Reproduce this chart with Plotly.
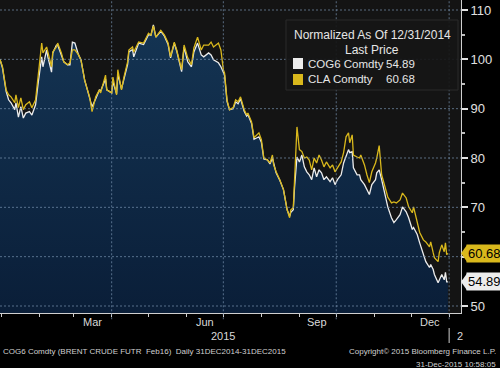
import plotly.graph_objects as go

dates = ["2014-12-31","2015-01-02","2015-01-05","2015-01-07","2015-01-09","2015-01-12","2015-01-13","2015-01-15","2015-01-17","2015-01-19",
"2015-01-21","2015-01-24","2015-01-26","2015-01-28","2015-01-29","2015-01-31","2015-02-03","2015-02-04","2015-02-07","2015-02-08",
"2015-02-11","2015-02-12","2015-02-15","2015-02-16","2015-02-19","2015-02-21","2015-02-24","2015-02-26","2015-02-28","2015-03-02",
"2015-03-05","2015-03-07","2015-03-10","2015-03-14","2015-03-16","2015-03-19","2015-03-22","2015-03-23","2015-03-27","2015-03-28",
"2015-04-01","2015-04-02","2015-04-05","2015-04-06","2015-04-09","2015-04-11","2015-04-14","2015-04-15","2015-04-18","2015-04-19",
"2015-04-23","2015-04-27","2015-05-01","2015-05-03","2015-05-05","2015-05-07","2015-05-11","2015-05-14","2015-05-17","2015-05-19",
"2015-05-22","2015-05-24","2015-05-28","2015-05-30","2015-06-02","2015-06-05","2015-06-07","2015-06-10","2015-06-13","2015-06-15",
"2015-06-19","2015-06-21","2015-06-23","2015-06-27","2015-06-29","2015-07-01","2015-07-02","2015-07-04","2015-07-06","2015-07-09",
"2015-07-11","2015-07-13","2015-07-15","2015-07-18","2015-07-20","2015-07-21","2015-07-24","2015-07-26","2015-07-28","2015-07-30",
"2015-08-01","2015-08-03","2015-08-06","2015-08-08","2015-08-10","2015-08-11","2015-08-13","2015-08-15","2015-08-16","2015-08-19",
"2015-08-20","2015-08-22","2015-08-24","2015-08-25","2015-08-27","2015-08-28","2015-08-30","2015-09-01","2015-09-03","2015-09-05",
"2015-09-07","2015-09-09","2015-09-11","2015-09-13","2015-09-15","2015-09-17","2015-09-19","2015-09-21","2015-09-23","2015-09-26",
"2015-09-28","2015-09-30","2015-10-02","2015-10-05","2015-10-07","2015-10-09","2015-10-11","2015-10-12","2015-10-14","2015-10-15",
"2015-10-18","2015-10-20","2015-10-21","2015-10-24","2015-10-26","2015-10-28","2015-10-30","2015-11-02","2015-11-03","2015-11-05",
"2015-11-07","2015-11-09","2015-11-12","2015-11-15","2015-11-17","2015-11-19","2015-11-22","2015-11-24","2015-11-27","2015-11-29",
"2015-12-02","2015-12-03","2015-12-06","2015-12-08","2015-12-11","2015-12-13","2015-12-16","2015-12-17","2015-12-19","2015-12-20",
"2015-12-23","2015-12-24","2015-12-26","2015-12-28","2015-12-29","2015-12-30","2015-12-31"]

cla = [100,98.5,93.8,92.8,92.4,91.2,92.8,90.2,92.2,89.8,
90.8,91.4,90.2,91.4,91.8,96.4,103.3,101.3,102.5,101.5,
98.5,101.5,102.5,103.3,101.3,99.5,98.9,99.3,101.9,101.9,
100.9,99.9,95.8,92.4,89.4,92.4,93.8,93.2,96.8,93.8,
93.2,96.4,92.8,97.9,93.8,96.4,99.5,101.9,102.5,101.5,
103.5,103.3,105.3,104.9,106.8,104.5,105.9,104.9,103.3,100.5,
103.5,101.9,97.9,102.9,100.3,98.9,102.3,104.5,101.9,102.9,
102.9,103.5,102.5,103.3,101.9,97.9,97.2,91.8,89.8,90.2,
91.8,91.4,92.4,89.8,88.7,89.1,87.3,84.1,84.7,85.1,
83.7,80.0,79.6,79.0,80.6,78.6,77.2,76.2,75.6,73.6,
72.1,69.5,67.9,69.5,69.9,75.6,86.3,81.7,81.3,80.0,
80.2,79.6,77.6,80.0,79.0,80.6,79.6,78.2,79.2,78.0,
78.6,77.2,78.0,79.2,81.1,84.3,85.1,83.1,84.7,80.6,
80.2,80.0,80.6,78.6,76.6,75.0,77.2,79.0,80.0,82.5,
76.6,75.0,72.1,70.9,71.1,70.9,71.5,72.9,71.9,70.1,
68.9,70.1,66.9,64.9,63.4,63.0,62.0,63.0,60.8,59.8,
59.0,60.8,62.4,61.0,62.8,60.4,60.68]

cog = [100,98.3,93.5,91.8,91.2,89.8,91.2,88.3,90.4,88.1,
89.1,89.4,88.7,90.2,90.8,95.0,100.5,98.5,101.9,100.5,
97.4,101.3,102.9,102.9,101.0,99.5,98.9,98.9,103.5,103.3,
100.9,99.9,95.8,92.4,90.4,92.0,93.8,93.6,96.0,93.8,
93.2,95.5,93.0,97.0,94.0,96.0,99.0,101.5,102.0,100.5,
103.3,103.0,105.0,104.9,107.0,104.5,105.7,104.7,103.0,100.3,
103.3,101.7,97.5,102.5,99.5,98.5,101.5,103.3,100.9,100.5,
101.3,100.9,99.9,99.3,98.5,97.4,96.8,91.5,89.8,90.0,
91.4,91.0,92.0,89.5,88.5,88.8,87.0,83.8,84.0,84.3,
83.2,79.8,79.6,78.8,80.0,78.8,77.0,76.0,75.5,73.6,
72.1,69.5,68.2,69.0,69.5,74.0,80.2,79.2,80.6,78.2,
77.2,76.6,75.6,78.0,76.2,77.6,77.0,75.6,76.2,75.2,
76.0,74.6,75.6,76.6,79.0,80.6,81.7,81.1,81.3,78.0,
76.6,76.6,75.6,74.6,73.6,72.6,74.6,75.6,77.0,77.6,
75.6,73.6,70.1,67.9,66.9,67.5,68.5,70.1,69.1,67.9,
65.5,65.9,64.5,62.8,60.4,59.0,57.8,58.4,57.4,56.4,
54.7,55.3,56.4,55.3,56.8,54.9,54.89]

y_ticks = [50, 60, 70, 80, 90, 100, 110]
y_tick_text = ["50", "", "70", "80", "90", "100", "110"]  # 60 is covered by the last-price tag
month_labels = ["Mar", "Jun", "Sep", "Dec"]
month_label_dates = ["2015-03-16", "2015-06-16", "2015-09-15", "2015-12-16"]
month_starts = ["2015-01-01","2015-02-01","2015-03-01","2015-04-01","2015-05-01","2015-06-01",
                "2015-07-01","2015-08-01","2015-09-01","2015-10-01","2015-11-01","2015-12-01","2016-01-01"]
quarter_starts = ["2015-04-01", "2015-07-01", "2015-10-01", "2016-01-01"]

WHITE = "#ececec"
YELLOW = "#d9b81c"
FONT = "Liberation Sans, Arial, sans-serif"
GRID = dict(color="rgba(120,145,175,0.7)", width=1, dash="2px,2px")

W, H = 500, 368
L, R, T, B = 0, 39, 0, 55
PW, PH = W - L - R, H - T - B

def px(x):
    return (x - L) / PW

def py(y):
    return 1 - (y - T) / PH

fig = go.Figure()
fig.add_trace(go.Scatter(x=dates, y=cog, mode="lines", fill="tozeroy",
                         fillgradient=dict(type="vertical",
                                           colorscale=[[0, "#06152a"], [0.45, "#0a1e38"], [1, "#143453"]]),
                         line=dict(color=WHITE, width=1.3), showlegend=False, hoverinfo="skip"))
fig.add_trace(go.Scatter(x=dates, y=cla, mode="lines",
                         line=dict(color=YELLOW, width=1.3), showlegend=False, hoverinfo="skip"))

shapes = []
for v in y_ticks:
    shapes.append(dict(type="line", xref="paper", yref="y", x0=0, x1=1, y0=v, y1=v,
                       line=GRID, layer="above"))
for d in quarter_starts:
    shapes.append(dict(type="line", xref="x", yref="paper", x0=d, x1=d, y0=-0.02, y1=1,
                       line=GRID, layer="above"))
shapes.append(dict(type="line", xref="x", yref="paper", x0="2016-01-01", x1="2016-01-01",
                   y0=py(328), y1=py(343), line=dict(color="#cfcfcf", width=1)))
# legend box
shapes.append(dict(type="rect", xref="paper", yref="paper", x0=px(286), x1=px(458), y0=py(90), y1=py(20),
                   fillcolor="rgba(22,22,22,0.92)", line=dict(color="#2a2a2a", width=1), layer="above"))
shapes.append(dict(type="rect", xref="paper", yref="paper", x0=px(293), x1=px(303), y0=py(69), y1=py(58),
                   fillcolor=WHITE, line=dict(width=0), layer="above"))
shapes.append(dict(type="rect", xref="paper", yref="paper", x0=px(293), x1=px(303), y0=py(85), y1=py(74),
                   fillcolor=YELLOW, line=dict(width=0), layer="above"))

annotations = []
LEG = dict(family=FONT, size=12, color="#e6e6e6")
ENT = dict(family=FONT, size=11.5, color="#e6e6e6")

def note(text, x, y, font, xanchor="center"):
    annotations.append(dict(text=text, xref="paper", yref="paper", x=px(x), y=py(y),
                            xanchor=xanchor, yanchor="middle", showarrow=False, font=font))

note("Normalized As Of 12/31/2014", 372, 35, LEG)
note("Last Price", 372, 50, LEG)
note("COG6 Comdty", 306, 64, ENT, "left")
note(f"{cog[-1]:.2f}", 384, 64, ENT, "left")
note("CLA Comdty", 306, 79, ENT, "left")
note(f"{cla[-1]:.2f}", 384, 79, ENT, "left")

for val, col in [(cla[-1], YELLOW), (cog[-1], WHITE)]:
    annotations.append(dict(text=f"{val:.2f}", xref="paper", yref="y", x=px(466), y=val,
                            xanchor="left", yanchor="middle",
                            showarrow=False, bgcolor=col, borderpad=1,
                            font=dict(family=FONT, size=13, color="#000000")))
    shapes.append(dict(type="path", xref="paper", yref="y",
                       path=f"M {px(461)} {val} L {px(467)} {val + 1.7} L {px(467)} {val - 1.7} Z",
                       fillcolor=col, line=dict(width=0), layer="above"))

AX = dict(family=FONT, size=11, color="#d8d8d8")
for lab, d in zip(month_labels, month_label_dates):
    annotations.append(dict(text=lab, xref="x", yref="paper", x=d, y=py(322),
                            xanchor="center", yanchor="middle", showarrow=False, font=AX))
note("2015", 237, 336, AX, "right")
note("2", 455, 336, AX, "left")
FOOT = dict(family=FONT, size=8, color="#d0d0d0")
note("COG6 Comdty (BRENT CRUDE FUTR  Feb16)  Daily 31DEC2014-31DEC2015", 1, 351, FOOT, "left")
note("Copyright\u00a9 2015 Bloomberg Finance L.P.", 498, 351, FOOT, "right")
note("31-Dec-2015 10:58:05", 498, 364, FOOT, "right")

fig.update_layout(
    width=W, height=H,
    margin=dict(l=L, r=R, t=T, b=B),
    paper_bgcolor="#000000",
    plot_bgcolor="#141414",
    shapes=shapes,
    annotations=annotations,
    showlegend=False,
    xaxis=dict(type="date", range=["2014-12-31", "2016-01-10 16:00"],
               showgrid=False, zeroline=False, showticklabels=False,
               tickvals=month_starts, ticks="outside", ticklen=3, tickcolor="#cfcfcf",
               showline=True, linecolor="#cfcfcf", linewidth=1),
    yaxis=dict(range=[48.58, 112.03], side="right", tickvals=y_ticks, ticktext=y_tick_text,
               showgrid=False, zeroline=False,
               ticks="outside", ticklen=6, tickwidth=2, tickcolor="#e0e0e0",
               minor=dict(dtick=5, tick0=0, ticks="outside", ticklen=3, tickcolor="#bdbdbd"),
               showline=True, linecolor="#cfcfcf", linewidth=1,
               tickfont=dict(family=FONT, size=13, color="#e0e0e0")),
)

fig.write_html("out.html", config={"displayModeBar": False},
               post_script="document.body.style.margin='0';document.body.style.overflow='hidden';document.body.style.background='#000';")
